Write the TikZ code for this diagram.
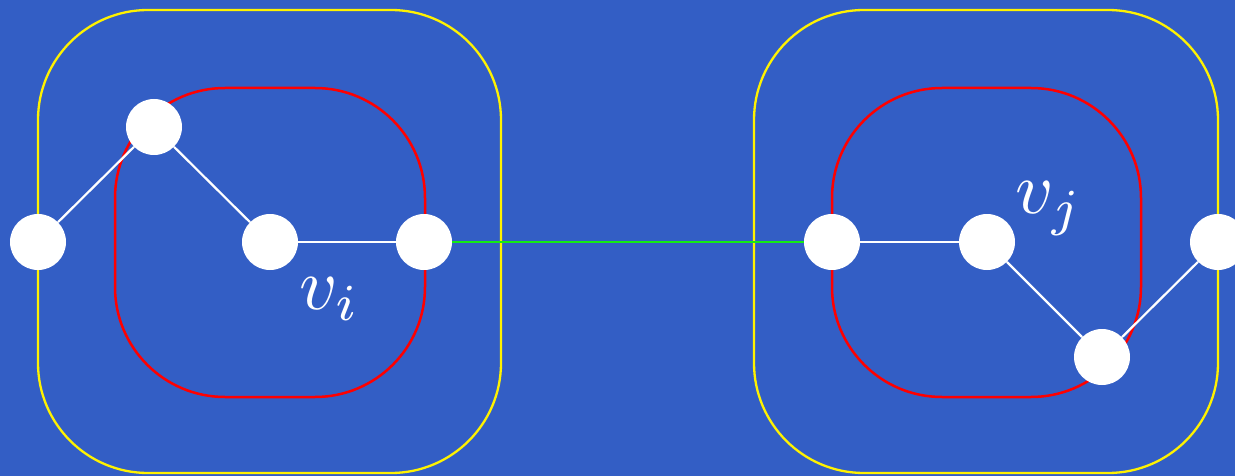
\documentclass[tikz,border=0pt]{standalone}
\begin{document}
\begin{tikzpicture}[x=1pt,y=-1pt,
  vtx/.style={circle,fill=white,draw=none,minimum size=56pt,inner sep=0pt},
  outerbox/.style={draw=yellow,line width=2.3pt,rounded corners=110pt},
  innerbox/.style={draw=red,line width=2.5pt,rounded corners=110pt},
  edge/.style={draw=white,line width=2.2pt},
  bridge/.style={draw=brightgreen,line width=2.5pt},
  lbl/.style={text=white,inner sep=0pt,anchor=base west,scale=7.4}]
\definecolor{bg}{RGB}{51,94,197}
\definecolor{brightgreen}{RGB}{20,235,20}
\fill[bg] (0,0) rectangle (1235,476);
\useasboundingbox (0,0) rectangle (1235,476);
\clip (0,0) rectangle (1235,476);
% boxes
\draw[outerbox] (38,10) rectangle (501,473);
\draw[innerbox] (115,88) rectangle (425,397);
\draw[outerbox] (754,10) rectangle (1218,473);
\draw[innerbox] (832,88) rectangle (1141,397);
% vertices
\node[vtx] (a1) at (38,242) {};
\node[vtx] (a2) at (154,127) {};
\node[vtx] (a3) at (270,242) {};
\node[vtx] (a4) at (424,242) {};
\node[vtx] (b1) at (832,242) {};
\node[vtx] (b2) at (987,242) {};
\node[vtx] (b3) at (1102,357) {};
\node[vtx] (b4) at (1218,242) {};
% edges
\draw[edge] (a1) -- (a2);
\draw[edge] (a2) -- (a3);
\draw[edge] (a3) -- (a4);
\draw[edge] (b1) -- (b2);
\draw[edge] (b2) -- (b3);
\draw[edge] (b3) -- (b4);
\draw[bridge] (a4) -- (b1);
% labels
\node[lbl] (li) at (298,309) {$v_i$};
\node[lbl] (lj) at (1014,214) {$v_j$};
\end{tikzpicture}
\end{document}
